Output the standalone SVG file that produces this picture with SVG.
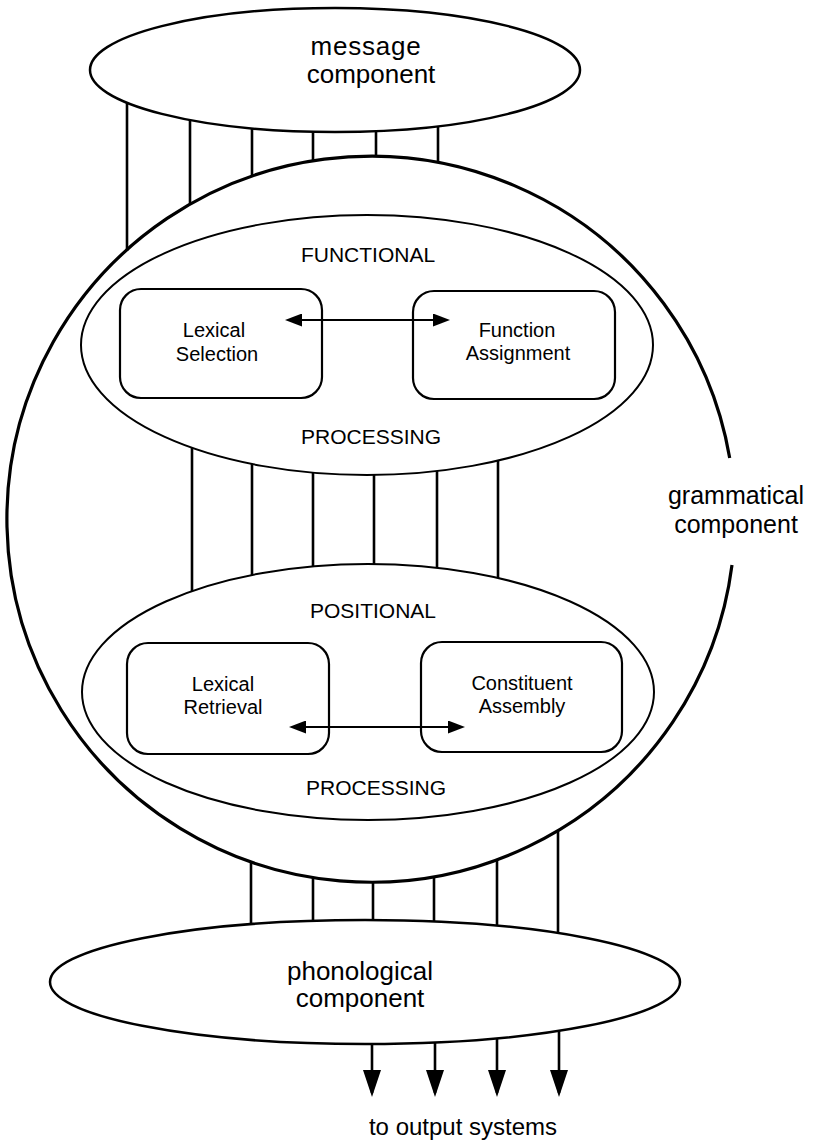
<svg xmlns="http://www.w3.org/2000/svg" width="813" height="1142" viewBox="0 0 813 1142">
<defs>
<style>
.big{font-family:"Liberation Sans",Arial,sans-serif;font-size:26px;fill:#000;text-anchor:middle}
.cap{font-family:"Liberation Sans",Arial,sans-serif;font-size:21px;fill:#000;text-anchor:middle}
.box{font-family:"Liberation Sans",Arial,sans-serif;font-size:20px;fill:#000;text-anchor:middle}
.ell{fill:none;stroke:#000;stroke-width:2.5}
.inner{fill:none;stroke:#000;stroke-width:2}
.rect{fill:none;stroke:#000;stroke-width:2.2}
.link{stroke:#000;stroke-width:2.6;fill:none}
.arr{stroke:#000;stroke-width:2.2;fill:none}
</style>
<marker id="head" viewBox="0 0 27 18" refX="23" refY="9" markerWidth="27" markerHeight="18" markerUnits="userSpaceOnUse" orient="auto">
<path d="M0,0 L27,9 L0,18 z" fill="#000"/>
</marker>
<marker id="small" viewBox="0 0 17 13" refX="14" refY="6.5" markerWidth="17" markerHeight="13" markerUnits="userSpaceOnUse" orient="auto-start-reverse">
<path d="M0,0 L17,6.5 L0,13 z" fill="#000"/>
</marker>
</defs>
<rect width="813" height="1142" fill="#fff"/>

<g id="message">
<ellipse class="ell" cx="335" cy="70" rx="245" ry="62"/>
<text class="big" x="366" y="55" letter-spacing="0.8">message</text>
<text class="big" x="371" y="83">component</text>
</g>

<g id="grammatical">
<path d="M729.7 458 A364 363 0 1 0 732 565" fill="none" stroke="#000" stroke-width="3.2"/>
<text class="big" x="736" y="504" style="font-size:25px">grammatical</text>
<text class="big" x="736" y="533" style="font-size:25px">component</text>
</g>

<g id="functional">
<ellipse class="inner" cx="367" cy="345" rx="286" ry="130"/>
<text class="cap" x="368" y="262">FUNCTIONAL</text>
<text class="cap" x="371" y="444">PROCESSING</text>
</g>

<g id="lexical-selection">
<rect class="rect" x="120" y="289" width="202" height="109" rx="21"/>
<text class="box" x="214" y="337">Lexical</text>
<text class="box" x="217" y="361">Selection</text>
</g>

<g id="function-assignment">
<rect class="rect" x="413" y="291" width="202" height="108" rx="21"/>
<text class="box" x="517" y="337">Function</text>
<text class="box" x="518" y="360">Assignment</text>
</g>

<g id="positional">
<ellipse class="inner" cx="368" cy="692" rx="286" ry="128"/>
<text class="cap" x="373" y="618">POSITIONAL</text>
<text class="cap" x="376" y="795">PROCESSING</text>
</g>

<g id="lexical-retrieval">
<rect class="rect" x="127" y="643" width="202" height="111" rx="21"/>
<text class="box" x="223" y="691">Lexical</text>
<text class="box" x="223" y="714">Retrieval</text>
</g>

<g id="constituent-assembly">
<rect class="rect" x="421" y="642" width="201" height="110" rx="21"/>
<text class="box" x="522" y="690">Constituent</text>
<text class="box" x="522" y="713">Assembly</text>
</g>

<g id="phonological">
<ellipse class="ell" cx="365" cy="982" rx="315" ry="62"/>
<text class="big" x="360" y="980">phonological</text>
<text class="big" x="360" y="1007">component</text>
</g>

<g id="output-label">
<text class="big" x="463" y="1135" style="font-size:24px">to output systems</text>
</g>

<g id="connectors">
<line class="link" x1="127" y1="103" x2="127" y2="251"/>
<line class="link" x1="190" y1="120" x2="190" y2="205"/>
<line class="link" x1="252" y1="128" x2="252" y2="177"/>
<line class="link" x1="313" y1="131" x2="313" y2="162"/>
<line class="link" x1="376" y1="131" x2="376" y2="157"/>
<line class="link" x1="438" y1="126" x2="438" y2="163"/>

<line class="link" x1="192" y1="448" x2="192" y2="591"/>
<line class="link" x1="252" y1="464" x2="252" y2="575"/>
<line class="link" x1="313" y1="472" x2="313" y2="566"/>
<line class="link" x1="374" y1="475" x2="374" y2="564"/>
<line class="link" x1="437" y1="471" x2="437" y2="568"/>
<line class="link" x1="498" y1="460" x2="498" y2="578"/>

<line class="link" x1="251" y1="863" x2="251" y2="924"/>
<line class="link" x1="313" y1="878" x2="313" y2="921"/>
<line class="link" x1="373" y1="883" x2="373" y2="920"/>
<line class="link" x1="434" y1="877" x2="434" y2="922"/>
<line class="link" x1="497" y1="860" x2="497" y2="926"/>
<line class="link" x1="558" y1="831" x2="558" y2="933"/>

<line class="arr" x1="288" y1="320" x2="447" y2="320" marker-start="url(#small)" marker-end="url(#small)"/>
<line class="arr" x1="292" y1="727" x2="462" y2="727" marker-start="url(#small)" marker-end="url(#small)"/>

<line class="link" x1="372" y1="1044" x2="372" y2="1093" marker-end="url(#head)"/>
<line class="link" x1="435" y1="1042" x2="435" y2="1093" marker-end="url(#head)"/>
<line class="link" x1="497" y1="1038" x2="497" y2="1093" marker-end="url(#head)"/>
<line class="link" x1="559" y1="1031" x2="559" y2="1093" marker-end="url(#head)"/>
</g>
</svg>
